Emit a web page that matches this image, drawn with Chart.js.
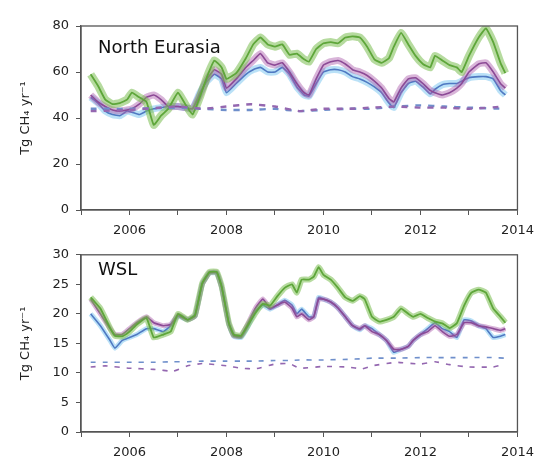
<!DOCTYPE html>
<html>
<head>
<meta charset="utf-8">
<script src="https://cdn.jsdelivr.net/npm/chart.js@4.4.1/dist/chart.umd.min.js"></script>
<style>
	html, body { margin: 0; padding: 0; background: #fff; }
	#wrap { position: relative; width: 542px; height: 462px; }
	#chart-ne { position: absolute; left: 0; top: 0; }
	#chart-wsl { position: absolute; left: 0; top: 240px; }
</style>
</head>
<body>
<div id="wrap">
	<canvas id="chart-ne" width="542" height="240"></canvas>
	<canvas id="chart-wsl" width="542" height="222"></canvas>
</div>
<script>
// North Eurasia, solid series
const NE_YEARS = [2005.2, 2005.35, 2005.5, 2005.65, 2005.8, 2005.95, 2006.05, 2006.2, 2006.35, 2006.5, 2006.65, 2006.8, 2007.0, 2007.15, 2007.3, 2007.45, 2007.6, 2007.75, 2007.9, 2008.0, 2008.2, 2008.4, 2008.55, 2008.7, 2008.85, 2009.0, 2009.15, 2009.3, 2009.45, 2009.6, 2009.7, 2009.85, 2010.0, 2010.15, 2010.3, 2010.45, 2010.6, 2010.75, 2010.9, 2011.05, 2011.2, 2011.35, 2011.45, 2011.6, 2011.75, 2011.9, 2012.05, 2012.2, 2012.3, 2012.45, 2012.6, 2012.75, 2012.85, 2013.0, 2013.2, 2013.35, 2013.5, 2013.65, 2013.75];
const NE_GREEN = [59, 54, 48, 46, 46.5, 48, 51, 49, 47, 37, 41, 44, 51, 46, 41.5, 49, 58, 65, 62, 57, 59.5, 66, 72, 75, 72, 71, 72, 67.5, 68, 65.5, 64.5, 70, 72.5, 73, 72.5, 75, 75.5, 75, 71, 65.5, 64, 66, 71, 77, 72, 67, 63.5, 62, 67, 65, 63, 62, 60, 67, 75, 79, 73, 64, 59.5];
const NE_PURPLE = [50, 47, 45, 43.5, 43, 43.5, 44, 46, 49, 50, 48, 45, 45, 44.5, 44, 50, 57, 61, 59, 53, 57, 62, 65, 68, 64, 63, 64, 60, 55, 51, 50, 57, 63, 64.5, 65, 63.5, 61, 60, 58.5, 56, 53, 48.5, 47, 53, 57, 57.5, 55, 52, 51, 50, 51, 53, 55, 60, 63.5, 64, 60, 55, 53];
const NE_BLUE = [49, 46.5, 43, 41.5, 41, 43, 42.5, 41.5, 43, 44, 44.5, 45, 45, 44.5, 44, 51, 56, 59, 57, 51, 55, 59, 61, 62, 60, 60, 62, 59, 53.5, 50, 49.5, 55, 60, 61, 61, 60, 58, 57, 55.5, 53.5, 51, 46.5, 44.5, 51, 55, 56, 53.5, 50.5, 52.5, 54.5, 55, 55, 56, 57.5, 58, 58, 57, 52, 50];

// North Eurasia, dashed series
const NE_DASH_YEARS = [2005.2, 2006, 2007, 2007.5, 2008, 2008.5, 2009, 2009.5, 2010, 2010.5, 2011, 2011.5, 2012, 2012.5, 2013, 2013.75];
const NE_DASH_BLUE = [44, 44, 44.5, 44, 43.5, 43.5, 44, 43, 43.5, 44, 44, 45, 45.5, 45, 44.5, 44];
const NE_DASH_PURPLE = [43, 43.5, 45, 44, 45, 46, 45, 43, 44, 44, 44.5, 45, 44.5, 44.5, 44, 45];

// WSL, solid series
const WSL_YEARS = [2005.2, 2005.4, 2005.6, 2005.7, 2005.85, 2006.0, 2006.15, 2006.35, 2006.5, 2006.7, 2006.85, 2007.0, 2007.2, 2007.35, 2007.5, 2007.65, 2007.8, 2007.9, 2008.05, 2008.15, 2008.3, 2008.45, 2008.6, 2008.75, 2008.9, 2009.05, 2009.2, 2009.35, 2009.45, 2009.55, 2009.7, 2009.8, 2009.9, 2010.0, 2010.15, 2010.3, 2010.45, 2010.6, 2010.75, 2010.85, 2011.0, 2011.15, 2011.3, 2011.45, 2011.6, 2011.75, 2011.85, 2012.0, 2012.15, 2012.3, 2012.45, 2012.6, 2012.75, 2012.9, 2013.05, 2013.2, 2013.35, 2013.5, 2013.65, 2013.75];
const WSL_GREEN = [22.8, 20.9, 17.6, 16.3, 16.2, 17, 18.2, 19.3, 16, 16.5, 17, 20, 19, 19.8, 25.2, 27.1, 27.1, 24.7, 18.4, 16.5, 16.3, 18.2, 20.2, 21.7, 21.4, 23, 24.4, 25, 23.6, 25.8, 25.8, 26.3, 27.9, 26.6, 25.8, 24.4, 22.8, 22.2, 23, 22.5, 19.5, 18.7, 19, 19.5, 20.9, 20, 19.5, 20, 19.3, 18.7, 18.4, 17.6, 18.4, 21.4, 23.6, 24.1, 23.6, 20.9, 19.5, 18.5];
const WSL_PURPLE = [22.5, 20, 17.5, 16.5, 16.5, 17.5, 18.5, 19.5, 18.5, 18, 18.2, 19.8, 19, 19.6, 25, 27, 27, 24.5, 18.3, 16.3, 16.2, 18.5, 21, 22.5, 21, 21.5, 22, 21, 19.5, 20, 19, 19.5, 22.5, 22.5, 22, 21, 19.5, 18, 17.5, 18, 17, 16.5, 15.5, 14, 14, 14.5, 15.5, 16.5, 17, 18, 17, 16.2, 16.5, 18.5, 18.5, 18, 17.8, 17.5, 17.2, 17.5];
const WSL_BLUE = [20, 18, 15.5, 14.2, 15.5, 16, 16.5, 17.5, 17.5, 17, 18, 19.6, 19, 19.6, 25, 26.9, 26.9, 24.5, 18.2, 16.2, 16, 18, 20.5, 21.5, 20.8, 21.5, 22.3, 21.5, 20, 20.8, 19.5, 19.5, 22.8, 22.5, 22, 21, 19.5, 18, 17.3, 18, 17.5, 16.5, 15.5, 13.5, 14, 14.5, 15.5, 16.5, 17.5, 18.5, 17.5, 17, 16, 19, 18.8, 18, 17.5, 16, 16.2, 16.5];

// WSL, dashed series
const WSL_DASH_YEARS = [2005.2, 2005.5, 2006, 2006.5, 2006.9, 2007.2, 2007.5, 2008, 2008.3, 2008.6, 2009, 2009.3, 2009.5, 2010, 2010.5, 2010.8, 2011, 2011.5, 2012, 2012.3, 2012.6, 2013, 2013.5, 2013.75];
const WSL_DASH_BLUE = [11.8, 11.8, 11.8, 11.8, 11.9, 11.9, 12, 12, 12, 12, 12.1, 12.1, 12.2, 12.2, 12.3, 12.4, 12.5, 12.5, 12.6, 12.6, 12.6, 12.6, 12.6, 12.5];
const WSL_DASH_PURPLE = [11, 11.2, 10.8, 10.6, 10.3, 11.2, 11.6, 11.2, 10.8, 10.7, 11.5, 11.6, 10.8, 11.1, 11, 10.7, 11.2, 11.8, 11.5, 11.9, 11.4, 11, 11, 11.5];

const NE_TICKS = [0, 20, 40, 60, 80];
const WSL_TICKS = [0, 5, 10, 15, 20, 25, 30];
const X_MIN = 2005;
const X_MAX = 2014;

const FONT = "'DejaVu Sans', sans-serif";
const AXIS_COLOR = "#555";

const pts = (xs, ys) => xs.map((x, i) => ({ x: x, y: ys[i] }));

// one band (wide, translucent) plus one thin centre line per series
const bandSet = (xs, ys, color, width, order) => ({
	data: pts(xs, ys),
	borderColor: color,
	borderWidth: width,
	pointRadius: 0,
	tension: 0.12,
	borderJoinStyle: "round",
	fill: false,
	order: order,
});
const lineSet = (xs, ys, color, width, order, dash) => ({
	data: pts(xs, ys),
	borderColor: color,
	borderWidth: width,
	borderDash: dash || [],
	pointRadius: 0,
	tension: 0.12,
	fill: false,
	order: order,
});

// frame around the plot plus the panel label
const framePlugin = {
	id: "frame",
	afterDraw(chart, args, opts) {
		const { ctx, chartArea } = chart;
		ctx.save();
		ctx.strokeStyle = AXIS_COLOR;
		ctx.lineWidth = 1.3;
		ctx.strokeRect(chartArea.left, chartArea.top, chartArea.right - chartArea.left, chartArea.bottom - chartArea.top);
		ctx.fillStyle = "#111";
		ctx.font = "18px " + FONT;
		ctx.textBaseline = "middle";
		ctx.fillText(opts.label, opts.x, opts.y);
		ctx.restore();
	},
};

const makeConfig = (datasets, yMax, yTicks, padTop, label, labelY) => ({
	type: "line",
	data: { datasets: datasets },
	plugins: [framePlugin],
	options: {
		responsive: false,
		animation: false,
		devicePixelRatio: 1,
		layout: {
			padding: { top: padTop, right: 20, bottom: 0, left: 0 },
		},
		plugins: {
			legend: { display: false },
			tooltip: { enabled: false },
			frame: { label: label, x: 98, y: labelY },
		},
		scales: {
			x: {
				type: "linear",
				min: X_MIN,
				max: X_MAX,
				afterFit: (scale) => {
					scale.height = 30;
				},
				afterBuildTicks: (scale) => {
					scale.ticks = [];
					for (let v = X_MIN; v <= X_MAX; v++) scale.ticks.push({ value: v });
				},
				border: { display: true, color: AXIS_COLOR, width: 1.3 },
				grid: {
					display: true,
					drawOnChartArea: false,
					drawTicks: true,
					tickLength: 5,
					tickColor: AXIS_COLOR,
				},
				ticks: {
					color: "#222",
					font: { family: FONT, size: 13 },
					padding: 8,
					maxRotation: 0,
					autoSkip: false,
					callback: (v) => (v % 2 === 0 ? String(v) : ""),
				},
			},
			y: {
				min: 0,
				max: yMax,
				afterFit: (scale) => {
					scale.width = 81;
				},
				afterBuildTicks: (scale) => {
					scale.ticks = yTicks.map((v) => ({ value: v }));
				},
				border: { display: true, color: AXIS_COLOR, width: 1.3 },
				grid: {
					display: true,
					drawOnChartArea: false,
					drawTicks: true,
					tickLength: 5,
					tickColor: AXIS_COLOR,
				},
				ticks: {
					color: "#222",
					font: { family: FONT, size: 13 },
					padding: 7,
				},
				title: {
					display: true,
					text: "Tg CH\u2084 yr\u207B\u00B9",
					color: "#222",
					font: { family: FONT, size: 13 },
					padding: { top: 18, bottom: 0 },
				},
			},
		},
	},
});

const GREEN = "#5ea63a";
const GREEN_BAND = "rgba(122, 190, 80, 0.55)";
const PURPLE = "#8c4a96";
const PURPLE_BAND = "rgba(170, 90, 170, 0.45)";
const BLUE = "#4f79c2";
const BLUE_BAND = "rgba(130, 200, 240, 0.55)";
const DASH_BLUE = "#6f8fcb";
const DASH_PURPLE = "#9467b0";

const neSets = [
	bandSet(NE_YEARS, NE_BLUE, BLUE_BAND, 7, 12),
	lineSet(NE_YEARS, NE_BLUE, BLUE, 1.6, 11),
	bandSet(NE_YEARS, NE_PURPLE, PURPLE_BAND, 7, 10),
	lineSet(NE_YEARS, NE_PURPLE, PURPLE, 1.6, 9),
	bandSet(NE_YEARS, NE_GREEN, GREEN_BAND, 8, 8),
	lineSet(NE_YEARS, NE_GREEN, GREEN, 1.8, 7),
	lineSet(NE_DASH_YEARS, NE_DASH_BLUE, DASH_BLUE, 2.4, 2, [6, 7]),
	lineSet(NE_DASH_YEARS, NE_DASH_PURPLE, DASH_PURPLE, 2.4, 1, [6, 7]),
];

const wslSets = [
	bandSet(WSL_YEARS, WSL_BLUE, BLUE_BAND, 5, 12),
	lineSet(WSL_YEARS, WSL_BLUE, BLUE, 1.6, 11),
	bandSet(WSL_YEARS, WSL_PURPLE, PURPLE_BAND, 5, 10),
	lineSet(WSL_YEARS, WSL_PURPLE, PURPLE, 1.6, 9),
	bandSet(WSL_YEARS, WSL_GREEN, GREEN_BAND, 6, 8),
	lineSet(WSL_YEARS, WSL_GREEN, GREEN, 1.8, 7),
	lineSet(WSL_DASH_YEARS, WSL_DASH_BLUE, DASH_BLUE, 1.6, 2, [5, 7]),
	lineSet(WSL_DASH_YEARS, WSL_DASH_PURPLE, DASH_PURPLE, 1.6, 1, [5, 7]),
];

new Chart(document.getElementById("chart-ne"), makeConfig(neSets, 80, NE_TICKS, 26, "North Eurasia", 48));
new Chart(document.getElementById("chart-wsl"), makeConfig(wslSets, 30, WSL_TICKS, 8, "WSL", 30));
</script>
</body>
</html>
